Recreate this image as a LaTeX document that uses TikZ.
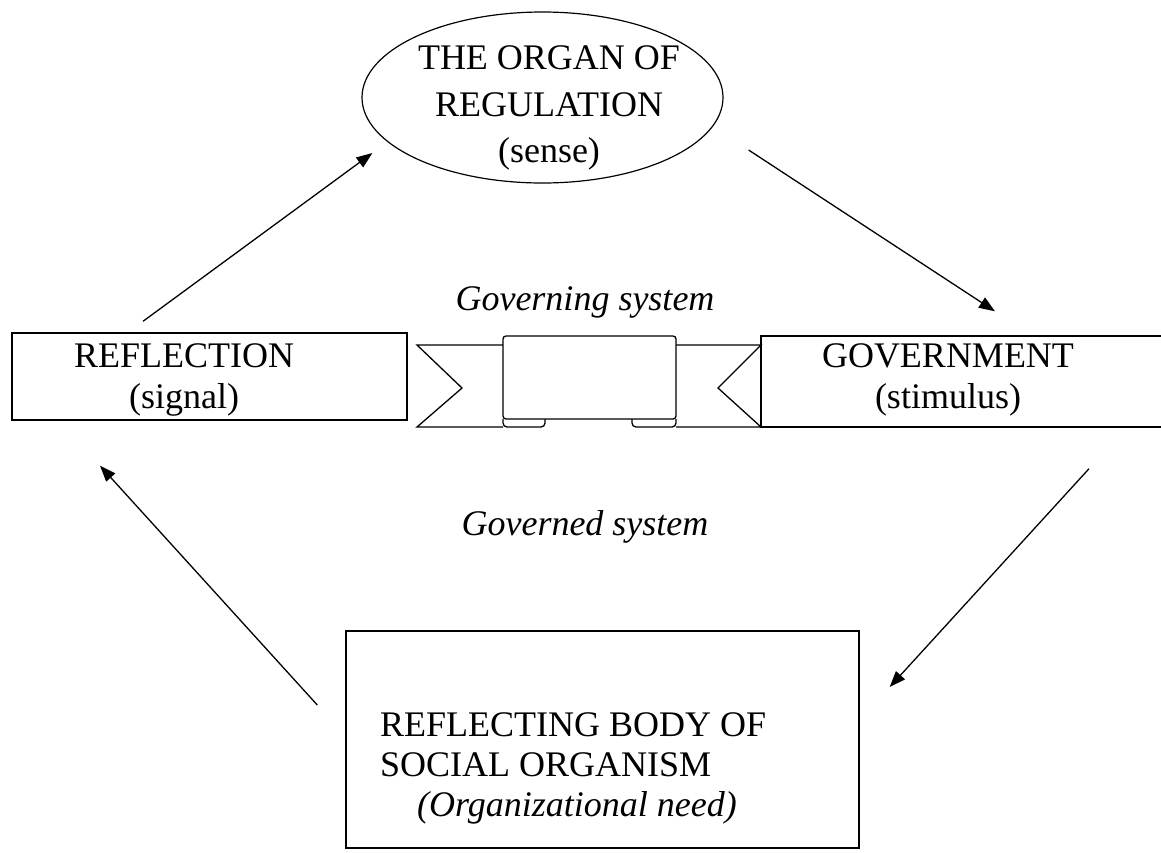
\documentclass[tikz,border=0pt]{standalone}
\usepackage{fontspec}
\setmainfont{Liberation Serif}
\usetikzlibrary{shapes.geometric,arrows.meta}
\tikzset{
  box/.style={draw, rectangle, line width=1.4pt, inner sep=0pt},
  txt/.style={align=center, inner sep=0pt},
  arr/.style={-{Triangle[length=16pt,width=12pt]}, line width=1.3pt},
}
\begin{document}
\begin{tikzpicture}[x=1pt,y=-1pt,every node/.style={font=\fontsize{36}{41}\selectfont}]
      \useasboundingbox (0,0) rectangle (1161,852);
      \node[box, minimum width=395pt, minimum height=87pt] (reflection) at (209.5,376.5) {};
      \node[box, minimum width=409pt, minimum height=91pt] (government) at (965.5,381.5) {};
      \node[box, minimum width=513pt, minimum height=217pt] (body) at (602.5,739.5) {};
      \node[draw, ellipse, line width=1.2pt, inner sep=0pt,
            minimum width=361pt, minimum height=171pt] (organ) at (542.5,97.5) {};
      \node[txt] (reflectiontxt) at (184,380) {REFLECTION\\(signal)};
      \node[txt] (governmenttxt) at (948,380) {GOVERNMENT\\(stimulus)};
      \node[txt, font=\fontsize{36}{46.5}\selectfont] (organtxt) at (549,108)
        {THE ORGAN OF\\REGULATION\\(sense)};
      \node[align=left, anchor=west, inner sep=0pt, font=\fontsize{36}{40}\selectfont] (bodytxt) at (380,768)
        {REFLECTING BODY OF\\SOCIAL ORGANISM\\\hspace*{37pt}\textit{(Organizational need)}};
      \node[anchor=base, inner sep=0pt, font=\fontsize{36}{41}\selectfont\itshape] (governing) at (585,310) {Governing system};
      \node[anchor=base, inner sep=0pt, font=\fontsize{36}{41}\selectfont\itshape] (governed) at (585,535) {Governed system};
      \begin{scope}[line width=1.3pt]
        \draw (503,345) -- (417,345) -- (462,388) -- (417,427) -- (503,427);
        \draw (676,345) -- (761,345) -- (718,388) -- (761,427) -- (676,427);
        \draw[rounded corners=4pt] (503,419) -- (503,427) -- (545,427) -- (545,419);
        \draw[rounded corners=4pt] (676,419) -- (676,427) -- (632,427) -- (632,419);
        \draw[fill=white, rounded corners=3pt] (503,336) rectangle (676,419);
      \end{scope}
      \begin{scope}[arr]
        \draw ([xshift=-66.5pt,yshift=11pt]reflection.north) to ([xshift=11pt,yshift=-55.5pt]organ.west);
        \draw ([xshift=25pt,yshift=-52.5pt]organ.east) to ([xshift=29.5pt,yshift=24pt]government.north);
        \draw ([xshift=123.5pt,yshift=-41pt]government.south) to ([xshift=30pt,yshift=52.5pt]body.east);
        \draw ([xshift=-28pt,yshift=34.5pt]body.west) to ([xshift=-109.5pt,yshift=-45pt]reflection.south);
      \end{scope}
    \end{tikzpicture}
\end{document}
